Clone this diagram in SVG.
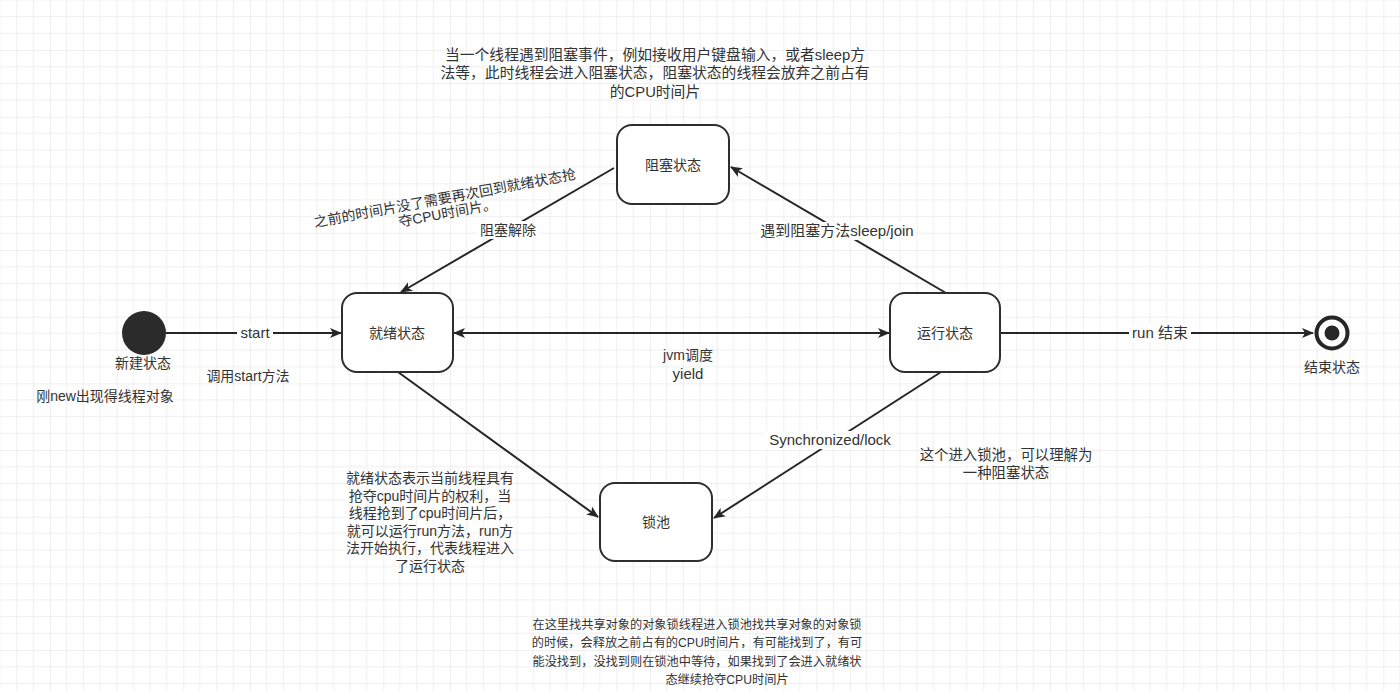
<svg xmlns="http://www.w3.org/2000/svg" width="1400" height="691" viewBox="0 0 1400 691">
<defs>
<pattern id="grid" x="-16.667" y="-16.667" width="66.667" height="66.667" patternUnits="userSpaceOnUse">
<path d="M16.667 0V66.667M33.333 0V66.667M50 0V66.667M0 16.667H66.667M0 33.333H66.667M0 50H66.667" stroke="#efefef" stroke-width="1" fill="none"/>
<path d="M0 0V66.667M0 0H66.667" stroke="#e2e2e2" stroke-width="1" fill="none"/>
</pattern>
<marker id="arr" viewBox="0 0 12 10" refX="11" refY="5" markerWidth="12" markerHeight="10" markerUnits="userSpaceOnUse" orient="auto-start-reverse">
<path d="M0,0 L12,5 L0,10 L3,5 Z" fill="#262626"/>
</marker>
</defs>
<style>
text{font-family:"Liberation Sans","Noto Sans CJK SC",sans-serif;fill:#333;text-anchor:middle}
.t14{font-size:14px}
.t15{font-size:15px}
.node rect{fill:#fff;stroke:#2e2e2e;stroke-width:2}
.edge{stroke:#262626;stroke-width:2;fill:none}
.lbl{fill:#fff}
</style>
<rect width="1400" height="691" fill="#fff"/>
<rect width="1400" height="691" fill="url(#grid)"/>

<g id="connectors">
<line class="edge" x1="166" y1="333" x2="341" y2="333" marker-end="url(#arr)"/>
<line class="edge" x1="454" y1="333" x2="889" y2="333" marker-start="url(#arr)" marker-end="url(#arr)"/>
<line class="edge" x1="1001" y1="333" x2="1313" y2="333" marker-end="url(#arr)"/>
<line class="edge" x1="614" y1="168" x2="401" y2="292" marker-end="url(#arr)"/>
<line class="edge" x1="946" y1="293" x2="731" y2="167" marker-end="url(#arr)"/>
<line class="edge" x1="398" y1="372" x2="598" y2="517" marker-end="url(#arr)"/>
<line class="edge" x1="941" y1="372" x2="714" y2="518" marker-end="url(#arr)"/>
<rect class="lbl" x="237" y="324" width="36" height="18"/>
<text class="t15" x="255" y="338">start</text>
<rect class="lbl" x="1129" y="324" width="62" height="18"/>
<text class="t15" x="1160" y="338">run 结束</text>
<rect class="lbl" x="477" y="221" width="62" height="18"/>
<text class="t14" x="508" y="235">阻塞解除</text>
<rect class="lbl" x="758" y="222" width="158" height="18"/>
<text class="t15" x="837" y="236">遇到阻塞方法sleep/join</text>
<rect class="lbl" x="764" y="431" width="132" height="18"/>
<text class="t15" x="830" y="445">Synchronized/lock</text>
<text class="t14" x="688" y="360">jvm调度</text>
<text class="t15" x="688" y="379">yield</text>
</g>

<g id="start-state">
<circle cx="144" cy="333" r="22" fill="#2b2b2b"/>
<text class="t14" x="143" y="368">新建状态</text>
</g>
<g id="end-state">
<circle cx="1332" cy="333" r="15.5" fill="#fff" stroke="#262626" stroke-width="4"/>
<circle cx="1332" cy="333" r="7.5" fill="#262626"/>
<text class="t14" x="1332" y="372">结束状态</text>
</g>
<g id="blocked" class="node">
<rect x="617" y="125" width="112" height="79" rx="15"/>
<text class="t14" x="673" y="170">阻塞状态</text>
</g>
<g id="ready" class="node">
<rect x="342" y="293" width="111" height="79" rx="15"/>
<text class="t14" x="397" y="338">就绪状态</text>
</g>
<g id="running" class="node">
<rect x="890" y="293" width="110" height="79" rx="15"/>
<text class="t14" x="945" y="338">运行状态</text>
</g>
<g id="lockpool" class="node">
<rect x="600" y="483" width="112" height="78" rx="15"/>
<text class="t14" x="656" y="527">锁池</text>
</g>

<g id="notes">
<text style="font-size:14.8px" x="655" y="60">当一个线程遇到阻塞事件，例如接收用户键盘输入，或者sleep方</text>
<text style="font-size:14.8px" x="655" y="78">法等，此时线程会进入阻塞状态，阻塞状态的线程会放弃之前占有</text>
<text style="font-size:14.8px" x="655" y="97">的CPU时间片</text>
<g transform="rotate(-10.5 446 205)">
<text class="t14" x="446" y="203">之前的时间片没了需要再次回到就绪状态抢</text>
<text class="t14" x="446" y="218">夺CPU时间片。</text>
</g>
<text class="t14" x="248" y="381">调用start方法</text>
<text class="t14" x="105" y="401">刚new出现得线程对象</text>
<text class="t14" x="430" y="483">就绪状态表示当前线程具有</text>
<text class="t14" x="430" y="501">抢夺cpu时间片的权利，当</text>
<text class="t14" x="430" y="518">线程抢到了cpu时间片后，</text>
<text class="t14" x="430" y="536">就可以运行run方法，run方</text>
<text class="t14" x="430" y="553">法开始执行，代表线程进入</text>
<text class="t14" x="430" y="571">了运行状态</text>
<text style="font-size:14.4px" x="1006" y="460">这个进入锁池，可以理解为</text>
<text style="font-size:14.4px" x="1006" y="478">一种阻塞状态</text>
<text style="font-size:12.2px" x="697" y="629">在这里找共享对象的对象锁线程进入锁池找共享对象的对象锁</text>
<text style="font-size:12.2px" x="697" y="647">的时候，会释放之前占有的CPU时间片，有可能找到了，有可</text>
<text style="font-size:12.2px" x="697" y="666">能没找到，没找到则在锁池中等待，如果找到了会进入就绪状</text>
<text style="font-size:12.2px" x="727" y="684">态继续抢夺CPU时间片</text>
</g>
</svg>
